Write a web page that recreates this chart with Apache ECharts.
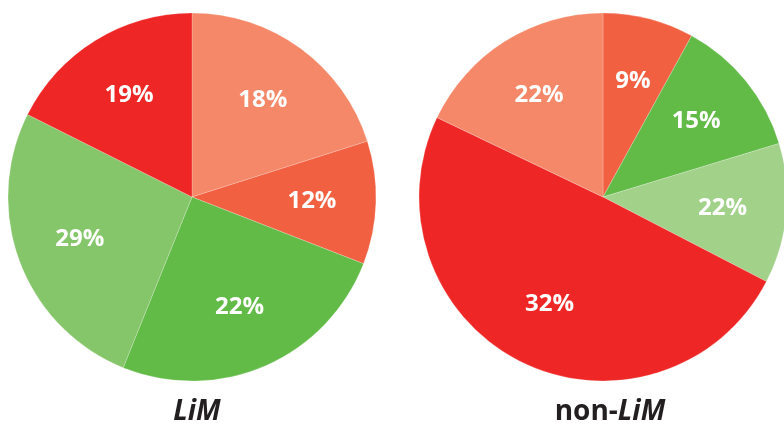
<!DOCTYPE html>
<html>
<head>
<meta charset="utf-8">
<script src="https://cdn.jsdelivr.net/npm/echarts@6/dist/echarts.min.js"></script>
<style>
html,body{margin:0;padding:0;background:#fff;}
#chart{width:784px;height:426px;}
</style>
</head>
<body>
<div id="chart"></div>
<script>
// Slice shares as drawn, clockwise from 12 o'clock
var limValues = [20.1, 10.8, 25.2, 26.3, 17.6];
var limLabels = ['18%', '12%', '22%', '29%', '19%'];
var limColors = ['#F58868', '#F26042', '#62BA47', '#86C66A', '#EE2726'];

var nonLimValues = [8.0, 12.3, 12.3, 49.5, 17.9];
var nonLimLabels = ['9%', '15%', '22%', '32%', '22%'];
var nonLimColors = ['#F26042', '#62BA47', '#A2D18A', '#EE2726', '#F58868'];

var titles = ['LiM', 'non-{i|LiM}'];

var R = 184;
var labelFont = '"Open Sans", "DejaVu Sans", sans-serif';

function pieData(values, colors) {
  return values.map(function (v, i) {
    return { value: v, itemStyle: { color: colors[i] } };
  });
}
function labelData(values, labels) {
  return values.map(function (v, i) {
    return { value: v, name: labels[i] };
  });
}
function pieSeries(center, values, colors) {
  return {
    type: 'pie', center: center, radius: [0, R], startAngle: 90, clockwise: true,
    silent: true, animation: false, label: { show: false }, labelLine: { show: false },
    itemStyle: { borderColor: 'rgba(255,255,255,0.35)', borderWidth: 0.6 },
    data: pieData(values, colors)
  };
}
function labelSeries(center, values, labels) {
  return {
    type: 'pie', center: center, radius: [Math.round(R * 0.27), R], startAngle: 90, clockwise: true,
    silent: true, animation: false,
    itemStyle: { color: 'rgba(0,0,0,0)', borderWidth: 0 },
    label: {
      show: true, position: 'inside', formatter: '{b}', color: '#ffffff',
      fontFamily: labelFont, fontWeight: 'bold', fontSize: 24
    },
    labelLine: { show: false },
    data: labelData(values, labels)
  };
}

var chart = echarts.init(document.getElementById('chart'), null, { renderer: 'canvas' });
chart.setOption({
  backgroundColor: '#ffffff',
  series: [
    pieSeries([192, 197], limValues, limColors),
    pieSeries([603, 197], nonLimValues, nonLimColors),
    labelSeries([192, 197], limValues, limLabels),
    labelSeries([603, 197], nonLimValues, nonLimLabels)
  ],
  graphic: [
    {
      type: 'text', x: 197, y: 398, silent: true,
      style: {
        text: titles[0], fill: '#231F20', align: 'center',
        font: 'italic bold 28px "Open Sans", sans-serif'
      }
    },
    {
      type: 'text', x: 610, y: 398, silent: true,
      style: {
        text: titles[1], fill: '#231F20', align: 'center',
        font: 'bold 28px "Open Sans", sans-serif',
        rich: { i: { fontStyle: 'italic', fontWeight: 'bold', fontSize: 28, fontFamily: '"Open Sans", sans-serif', fill: '#231F20' } }
      }
    }
  ]
});
</script>
</body>
</html>
